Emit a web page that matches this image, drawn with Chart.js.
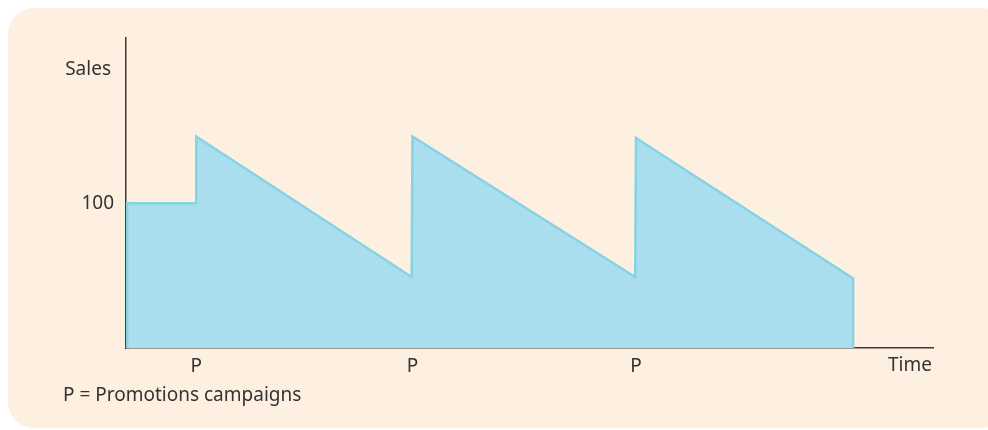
<!DOCTYPE html>
<html lang="en">
<head>
    <meta charset="UTF-8">
    <title>Sales and promotions</title>
    <script src="https://cdn.jsdelivr.net/npm/chart.js"></script>
    <style>
        html, body { margin: 0; padding: 0; background: #ffffff; }
        #box {
            position: absolute;
            left: 8px; top: 8px;
            width: 1000px; height: 420px;
            background: #fdf0e1;
            border-radius: 26px;
        }
        #wrap { position: absolute; left: 0; top: 0; width: 988px; height: 430px; }
    </style>
</head>
<body>
    <div id="box"></div>
    <div id="wrap"><canvas id="chart" width="988" height="430"></canvas></div>
    <script>
        // sales over time (x in arbitrary time units, 0-100)
        var timePoints = [0.15, 0.15, 8.7, 8.7, 35.4, 35.5, 63.1, 63.2, 90.1, 90.1];
        var salesValues = [0, 100, 100, 146, 49, 146, 49, 145, 48, 0];
        // promotion campaigns
        var promoTimes = [8.7, 35.5, 63.2];
        var promoLabel = 'P';
        var yTicks = [100];

        var textColor = '#333333';
        var font = '"Noto Sans", "Open Sans", sans-serif';

        var labelsPlugin = {
            id: 'labels',
            afterDraw: function(chart) {
                var ctx = chart.ctx;
                var area = chart.chartArea;
                ctx.save();
                ctx.fillStyle = textColor;
                ctx.font = '19px ' + font;
                ctx.textBaseline = 'middle';
                ctx.textAlign = 'right';
                ctx.fillText('Sales', area.left - 15, 70);
                ctx.fillText('Time', area.right - 1, 366);
                ctx.textAlign = 'left';
                ctx.fillText('P = Promotions campaigns', 63, 396);
                ctx.restore();
            }
        };

        new Chart(document.getElementById('chart'), {
            type: 'line',
            data: {
                datasets: [{
                    data: timePoints.map(function(t, i) { return { x: t, y: salesValues[i] }; }),
                    borderColor: '#86d3e3',
                    backgroundColor: '#aadeef',
                    borderWidth: 2.5,
                    fill: 'origin',
                    tension: 0,
                    pointRadius: 0,
                    clip: false
                }]
            },
            options: {
                responsive: false,
                animation: false,
                layout: { padding: { left: 0, top: 38, right: 55, bottom: 0 } },
                plugins: { legend: { display: false }, tooltip: { enabled: false } },
                scales: {
                    x: {
                        type: 'linear',
                        min: 0,
                        max: 100,
                        grid: { display: false, drawTicks: false },
                        border: { display: true, color: '#3a3a3a', width: 1.5 },
                        afterBuildTicks: function(scale) {
                            scale.ticks = promoTimes.map(function(v) { return { value: v }; });
                        },
                        afterFit: function(scale) { scale.height = 82; },
                        ticks: {
                            autoSkip: false,
                            maxRotation: 0,
                            padding: 7,
                            color: textColor,
                            font: { size: 19, family: font },
                            callback: function() { return promoLabel; }
                        }
                    },
                    y: {
                        min: 0,
                        max: 214,
                        grid: { display: false, drawTicks: false },
                        border: { display: true, color: '#3a3a3a', width: 1.5 },
                        afterBuildTicks: function(scale) {
                            scale.ticks = yTicks.map(function(v) { return { value: v }; });
                        },
                        afterFit: function(scale) { scale.width = 126; },
                        ticks: {
                            padding: 12,
                            color: textColor,
                            font: { size: 19, family: font }
                        }
                    }
                }
            },
            plugins: [labelsPlugin]
        });
    </script>
</body>
</html>
